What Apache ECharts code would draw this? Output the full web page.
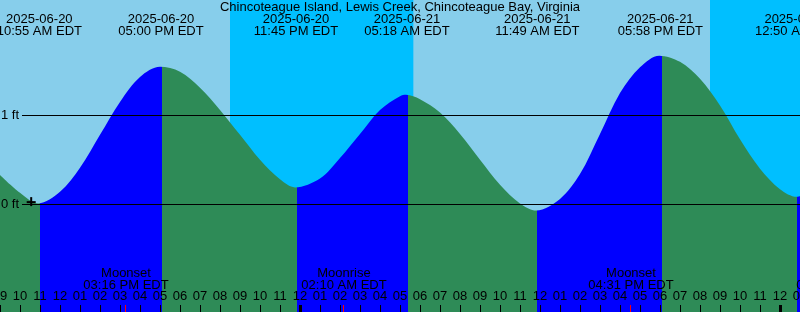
<!DOCTYPE html>
<html>
<head>
<meta charset="utf-8">
<script src="https://cdn.jsdelivr.net/npm/echarts@6/dist/echarts.min.js"></script>
<style>
  html, body { margin: 0; padding: 0; background: #fff; }
  #chart { width: 800px; height: 312px; }
</style>
</head>
<body>
<div id="chart"></div>
<script>
const titleText = 'Chincoteague Island, Lewis Creek, Chincoteague Bay, Virginia';

// hours counted from 2025-06-20 00:00 EDT, water level in feet
const tideHours = [9, 10, 10.917, 12, 13, 14, 15, 16, 17, 18, 19, 20, 21, 22, 23, 23.75,
  25, 26, 27, 28, 29, 29.3, 30, 31, 32, 33, 34, 35, 35.817, 37, 38, 39, 40, 41, 41.967,
  43, 44, 45, 46, 47, 48, 48.833, 49];
const tideFeet = [0.33, 0.13, 0.01, 0.14, 0.41, 0.78, 1.15, 1.43, 1.545, 1.49, 1.31, 1.06, 0.78, 0.50, 0.28, 0.19,
  0.29, 0.52, 0.79, 1.06, 1.215, 1.23, 1.18, 1.03, 0.79, 0.50, 0.22, 0.01, -0.07, 0.06, 0.34, 0.79, 1.25, 1.54, 1.67,
  1.60, 1.41, 1.11, 0.73, 0.40, 0.17, 0.085, 0.09];

// high / low water labels along the top
const tideEventHours = [10.917, 17.0, 23.75, 29.3, 35.817, 41.967, 48.833];
const tideEventDates = ['2025-06-20', '2025-06-20', '2025-06-20', '2025-06-21', '2025-06-21', '2025-06-21', '2025-06-22'];
const tideEventTimes = ['10:55 AM EDT', '05:00 PM EDT', '11:45 PM EDT', '05:18 AM EDT', '11:49 AM EDT', '05:58 PM EDT', '12:50 AM EDT'];

// where the fill switches between rising (blue) and falling (green)
const turnHours = [11.0, 17.08, 23.85, 29.38, 35.87, 42.08, 48.85];

// night (sunset -> sunrise)
const nightStart = [20.5, 44.5];
const nightEnd = [29.667, 49];

const moonHours = [15.267, 26.167, 40.517, 50.92];
const moonNames = ['Moonset', 'Moonrise', 'Moonset', 'Moonrise'];
const moonTimes = ['03:16 PM EDT', '02:10 AM EDT', '04:31 PM EDT', '02:55 AM EDT'];

const midnightHours = [24, 48];
const refLevels = [1, 0];
const refLabels = ['1 ft', '0 ft'];
const refLineStart = 10.1;
const nowMark = [10.535, 0.03];

const xMin = 9, xMax = 49;
const yMin = -1.21, yMax = 2.295;
const FONT = 'Liberation Sans';
const RISING = '#0000FF', FALLING = '#2E8B57';

const hourTicks = [];
for (let h = xMin; h <= xMax; h++) hourTicks.push(h);

const pieces = [{ lt: turnHours[0], color: FALLING }];
turnHours.forEach((h, i) => {
  const p = { gte: h, color: i % 2 === 0 ? RISING : FALLING };
  if (i + 1 < turnHours.length) p.lt = turnHours[i + 1];
  pieces.push(p);
});

// tick list: [hour, width, colour]
const ticks = hourTicks.map(h => [h, midnightHours.indexOf(h) >= 0 ? 3 : 1, '#000'])
  .concat(moonHours.map(h => [h, 1, '#FF0000']));

function hourLabel(v) {
  let h = Math.round(v) % 24;
  h = h % 12 === 0 ? 12 : h % 12;
  return (h < 10 ? '0' : '') + h;
}

function txt(text, x, y) {
  return {
    type: 'text',
    style: { text: text, x: x, y: y, align: 'center', verticalAlign: 'middle',
             font: '13px "' + FONT + '"', fill: '#000' }
  };
}

const chart = echarts.init(document.getElementById('chart'));
chart.setOption({
  animation: false,
  backgroundColor: '#87CEEB',
  title: {
    text: titleText, left: 'center', top: 1, padding: 0,
    textStyle: { fontFamily: FONT, fontSize: 13, fontWeight: 'normal', color: '#000' }
  },
  grid: { left: 0, right: 0, top: 0, bottom: 0, containLabel: false, outerBoundsMode: 'none' },
  xAxis: {
    type: 'value', min: xMin, max: xMax, interval: 1, z: 10,
    axisLine: { show: false, onZero: false },
    splitLine: { show: false },
    axisTick: { show: false },
    axisLabel: { inside: true, margin: 9, color: '#000', fontFamily: FONT, fontSize: 13,
                 formatter: hourLabel, showMinLabel: true, showMaxLabel: true }
  },
  yAxis: { type: 'value', min: yMin, max: yMax, show: false, splitLine: { show: false } },
  visualMap: { type: 'piecewise', show: false, dimension: 0, seriesIndex: 1, pieces: pieces },
  series: [
    {
      type: 'custom', z: 1, silent: true,
      data: nightStart.map((s, i) => [s, nightEnd[i]]),
      renderItem(params, api) {
        const p0 = api.coord([api.value(0), yMax]);
        const p1 = api.coord([api.value(1), yMin]);
        return { type: 'rect', shape: { x: p0[0], y: p0[1], width: p1[0] - p0[0], height: p1[1] - p0[1] },
                 style: { fill: '#00BFFF' } };
      }
    },
    {
      type: 'line', z: 2, silent: true,
      data: tideHours.map((h, i) => [h, tideFeet[i]]),
      showSymbol: false, smooth: 0.33,
      lineStyle: { width: 0 },
      areaStyle: { origin: 'start', opacity: 1 },
      markLine: {
        silent: true, symbol: 'none', z: 5,
        lineStyle: { color: '#000', width: 1, type: 'solid' },
        label: { position: 'start', distance: 3, color: '#000', fontFamily: FONT, fontSize: 13,
                 formatter: p => refLabels[p.dataIndex] },
        data: refLevels.map(v => [{ coord: [refLineStart, v] }, { coord: [xMax, v] }])
      }
    },
    {
      // high / low labels
      type: 'custom', z: 10, silent: true,
      data: tideEventHours.map((h, i) => [h, i]),
      renderItem(params, api) {
        const i = params.dataIndex;
        const x = api.coord([api.value(0), 0])[0] + 1;
        return { type: 'group', children: [txt(tideEventDates[i], x, 19.5), txt(tideEventTimes[i], x, 31.5)] };
      }
    },
    {
      // moon rise / set labels
      type: 'custom', z: 10, silent: true,
      data: moonHours.map((h, i) => [h, i]),
      renderItem(params, api) {
        const i = params.dataIndex;
        const x = Math.round(api.coord([api.value(0), yMin])[0]);
        return { type: 'group', children: [txt(moonNames[i], x + 1, 273.5), txt(moonTimes[i], x + 1, 285)] };
      }
    },
    {
      // hour ticks (heavier at midnight) and red moon ticks
      type: 'custom', z: 11, silent: true,
      data: ticks,
      renderItem(params, api) {
        const t = ticks[params.dataIndex];
        const p = api.coord([t[0], yMin]);
        const x = Math.round(p[0]) - (t[1] > 1 ? 1 : 0);
        return { type: 'rect', shape: { x: x, y: p[1] - 7, width: t[1], height: 7 }, style: { fill: t[2] } };
      }
    },
    {
      // the "+" mark
      type: 'custom', z: 11, silent: true,
      data: [nowMark],
      renderItem(params, api) {
        const p = api.coord([api.value(0), api.value(1)]);
        return { type: 'group', children: [
          { type: 'rect', shape: { x: p[0] - 4, y: p[1] - 0.5, width: 9, height: 2 }, style: { fill: '#000' } },
          { type: 'rect', shape: { x: p[0] - 0.5, y: p[1] - 4.5, width: 2, height: 9 }, style: { fill: '#000' } }
        ] };
      }
    }
  ]
});
</script>
</body>
</html>
